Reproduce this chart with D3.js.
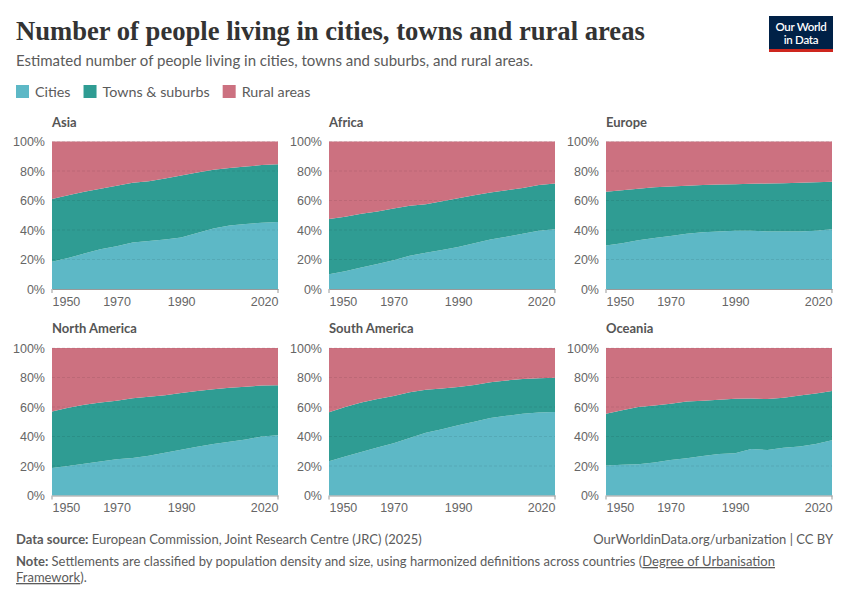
<!DOCTYPE html>
<html>
<head>
<meta charset="utf-8">
<script src="https://cdn.jsdelivr.net/npm/d3@7"></script>
<style>
  body { margin: 0; background: #fff; }
  svg { display: block; font-family: Lato, "Noto Sans", sans-serif; }
  .axis text { fill: #666; font-size: 12.5px; }
  .panel-title { fill: #555; font-size: 13px; font-weight: 700; }
  .grid line { stroke: #000; stroke-opacity: 0.08; stroke-dasharray: 3,2; }
</style>
</head>
<body>
<svg id="chart" width="850" height="600"></svg>
<script>
// years shown in every panel
const years = [1950, 1955, 1960, 1965, 1970, 1975, 1980, 1985, 1990, 1995, 2000, 2005, 2010, 2015, 2020];
const xTicks = [1950, 1970, 1990, 2020];
const yTicks = [0, 0.2, 0.4, 0.6, 0.8, 1];
const seriesNames = ['Cities', 'Towns & suburbs', 'Rural areas'];
const seriesColors = ['#5db8c6', '#2f9c93', '#cc7180'];
const regions = ['Asia', 'Africa', 'Europe', 'North America', 'South America', 'Oceania'];

// shares of population, percent
const asiaCities = [18.5, 21, 24, 27, 29, 31.5, 32.5, 33.5, 35, 38, 41, 43, 44, 45, 45.5];
const asiaTowns  = [42.5, 42.5, 42, 41, 41, 40.5, 40.5, 41.5, 42, 41, 39.8, 39, 39, 39, 39.1];
const asiaRural  = [39, 36.5, 34, 32, 30, 28, 27, 25, 23, 21, 19.2, 18, 17, 16, 15.4];

const africaCities = [10, 12, 14.5, 17, 19.5, 22.5, 24.5, 26.5, 28.5, 31, 33.5, 35.5, 37.5, 39.5, 40.5];
const africaTowns  = [37.5, 37, 36.5, 35.5, 35, 34, 33, 33, 33, 32.5, 32, 31.5, 31, 31, 31];
const africaRural  = [52.5, 51, 49, 47.5, 45.5, 43.5, 42.5, 40.5, 38.5, 36.5, 34.5, 33, 31.5, 29.5, 28.5];

const europeCities = [29.5, 31, 33, 34.5, 36, 37.5, 38.5, 39, 39.5, 39.5, 39, 39, 39, 39.5, 40.5];
const europeTowns  = [36.5, 36, 35, 34.5, 33.5, 32.5, 32, 31.8, 31.5, 31.8, 32.5, 32.7, 33, 32.8, 32.2];
const europeRural  = [34, 33, 32, 31, 30.5, 30, 29.5, 29.2, 29, 28.7, 28.5, 28.3, 28, 27.7, 27.3];

const northAmCities = [18.7, 20, 21.5, 23, 24.5, 25.5, 27, 29, 31, 33, 35, 36.5, 38, 40, 40.8];
const northAmTowns  = [38.3, 39.5, 40, 40, 39.8, 40.5, 40, 39, 38.5, 37.8, 37, 36.5, 35.8, 34.5, 34];
const northAmRural  = [43, 40.5, 38.5, 37, 35.7, 34, 33, 32, 30.5, 29.2, 28, 27, 26.2, 25.5, 25.2];

const southAmCities = [23.3, 26.5, 29.5, 32.5, 35.5, 39, 42.5, 45, 47.6, 50, 52.5, 54, 55.5, 56.3, 56.6];
const southAmTowns  = [33.2, 33.5, 33.5, 33, 32, 31, 29.2, 27.5, 25.9, 25, 24.2, 24, 23.5, 23.2, 23.2];
const southAmRural  = [43.5, 40, 37, 34.5, 32.5, 30, 28.3, 27.5, 26.5, 25, 23.3, 22, 21, 20.5, 20.2];

const oceaniaCities = [20.3, 20.8, 21.2, 22.3, 24, 25.3, 26.8, 28.2, 28.6, 31.6, 30.8, 32.3, 33.3, 35, 37.4];
const oceaniaTowns  = [35.2, 37, 38.8, 38.7, 38.2, 38.5, 37.5, 36.8, 37, 34.1, 34.6, 33.9, 34.5, 34.2, 33.4];
const oceaniaRural  = [44.5, 42.2, 40, 39, 37.8, 36.2, 35.7, 35, 34.4, 34.3, 34.6, 33.8, 32.2, 30.8, 29.2];

const regionSeries = [
  [asiaCities, asiaTowns, asiaRural],
  [africaCities, africaTowns, africaRural],
  [europeCities, europeTowns, europeRural],
  [northAmCities, northAmTowns, northAmRural],
  [southAmCities, southAmTowns, southAmRural],
  [oceaniaCities, oceaniaTowns, oceaniaRural]
];

const svg = d3.select('#chart');

// header
const title = svg.append('text')
  .attr('x', 16).attr('y', 40)
  .attr('font-family', '"Liberation Serif", "DejaVu Serif", serif')
  .attr('font-size', 26).attr('font-weight', 600)
  .attr('fill', '#333')
  .text('Number of people living in cities, towns and rural areas');
// Playfair isn't available, so size the fallback to the same width
const tw = title.node().getComputedTextLength();
title.attr('font-size', 26 * 629 / tw);

svg.append('text')
  .attr('x', 16).attr('y', 66)
  .attr('font-size', 15).attr('fill', '#5b5b5b')
  .text('Estimated number of people living in cities, towns and suburbs, and rural areas.');

// logo
const logo = svg.append('g').attr('transform', 'translate(769,16)');
logo.append('rect').attr('width', 64).attr('height', 36).attr('fill', '#002147');
logo.append('rect').attr('y', 33).attr('width', 64).attr('height', 3).attr('fill', '#ce261e');
logo.append('text').attr('x', 32).attr('y', 15).attr('text-anchor', 'middle')
  .attr('fill', '#fff').attr('font-size', 11.5).attr('font-weight', 600).attr('letter-spacing', -0.3)
  .text('Our World');
logo.append('text').attr('x', 32).attr('y', 28).attr('text-anchor', 'middle')
  .attr('fill', '#fff').attr('font-size', 11.5).attr('font-weight', 600).attr('letter-spacing', -0.3)
  .text('in Data');

// legend
let lx = 16;
seriesNames.forEach((name, i) => {
  svg.append('rect').attr('x', lx).attr('y', 85).attr('width', 13).attr('height', 13)
    .attr('fill', seriesColors[i]);
  const t = svg.append('text').attr('x', lx + 19).attr('y', 97)
    .attr('font-size', 14.3).attr('fill', '#5b5b5b').text(name);
  lx += 19 + t.node().getComputedTextLength() + 13;
});

// facets
const colX = [52, 329, 606];
const rowY = [141.5, 348];
const plotW = 226, plotH = 147.5;

const stack = d3.stack().keys([0, 1, 2]).offset(d3.stackOffsetExpand);

regions.forEach((region, ri) => {
  const x0 = colX[ri % 3], y0 = rowY[Math.floor(ri / 3)];
  const g = svg.append('g').attr('transform', `translate(${x0},${y0})`);
  const x = d3.scaleLinear().domain([1950, 2020]).range([0, plotW]);
  const y = d3.scaleLinear().domain([0, 1]).range([plotH, 0]);

  const rows = years.map((yr, i) => ({ year: yr, 0: regionSeries[ri][0][i], 1: regionSeries[ri][1][i], 2: regionSeries[ri][2][i] }));
  const layers = stack(rows);
  const area = d3.area()
    .x(d => x(d.data.year))
    .y0(d => y(d[0]))
    .y1(d => y(d[1]));

  g.selectAll('path.layer').data(layers).join('path')
    .attr('class', 'layer')
    .attr('fill', (d, i) => seriesColors[i])
    .attr('d', area);

  g.append('g').attr('class', 'grid')
    .selectAll('line').data(yTicks.slice(1)).join('line')
    .attr('x1', 0).attr('x2', plotW)
    .attr('y1', d => y(d)).attr('y2', d => y(d));

  g.append('text').attr('class', 'panel-title')
    .attr('x', 0).attr('y', -15).text(region);

  const yAxis = g.append('g').attr('class', 'axis')
    .call(d3.axisLeft(y).tickValues(yTicks).tickFormat(d3.format('.0%')).tickSize(0).tickPadding(7));
  yAxis.select('.domain').remove();

  const xAxis = g.append('g').attr('class', 'axis')
    .attr('transform', `translate(0,${plotH})`)
    .call(d3.axisBottom(x).tickValues(xTicks).tickFormat(d3.format('d')).tickSize(0).tickPadding(8));
  xAxis.select('.domain').attr('stroke', '#999');
  xAxis.selectAll('.tick text')
    .attr('text-anchor', (d, i) => i === 0 ? 'start' : i === xTicks.length - 1 ? 'end' : 'middle');
  // small ticks only at the ends of the time range
  xAxis.selectAll('line.endtick').data([1950, 2020]).join('line')
    .attr('class', 'endtick')
    .attr('x1', d => x(d)).attr('x2', d => x(d))
    .attr('y1', 0).attr('y2', 4).attr('stroke', '#999');
});

// footer
const src = svg.append('text').attr('x', 16).attr('y', 544).attr('font-size', 13).attr('fill', '#5b5b5b');
src.append('tspan').attr('font-weight', 700).text('Data source:');
src.append('tspan').text(' European Commission, Joint Research Centre (JRC) (2025)');

svg.append('text').attr('x', 833).attr('y', 544).attr('text-anchor', 'end')
  .attr('font-size', 13).attr('fill', '#5b5b5b')
  .text('OurWorldinData.org/urbanization | CC BY');

const note = svg.append('text').attr('x', 16).attr('y', 566).attr('font-size', 13).attr('fill', '#5b5b5b');
note.append('tspan').attr('font-weight', 700).text('Note:');
note.append('tspan').text(' Settlements are classified by population density and size, using harmonized definitions across countries (');
note.append('tspan').attr('text-decoration', 'underline').text('Degree of Urbanisation');
svg.append('text').attr('x', 16).attr('y', 582).attr('font-size', 13).attr('fill', '#5b5b5b')
  .call(t => {
    t.append('tspan').attr('text-decoration', 'underline').text('Framework');
    t.append('tspan').text(').');
  });
</script>
</body>
</html>
